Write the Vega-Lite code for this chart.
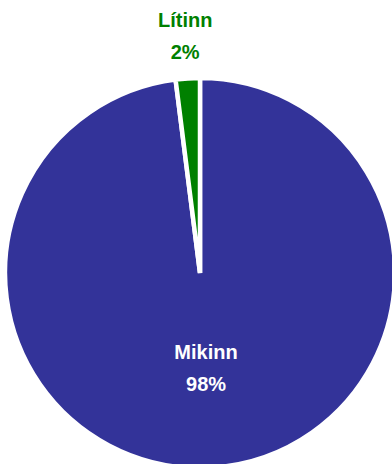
{
  "$schema": "https://vega.github.io/schema/vega-lite/v6.json",
  "autosize": "none",
  "width": 400,
  "height": 386,
  "padding": {"left": 0, "top": 80, "right": 0, "bottom": 0},
  "background": "white",
  "data": {"values": [
    {"label": "Mikinn", "value": 0.98},
    {"label": "Lítinn", "value": 0.02}
  ]},
  "encoding": {
    "theta": {"field": "value", "type": "quantitative", "stack": true},
    "order": {"field": "value", "type": "quantitative", "sort": "descending"},
    "detail": {"field": "label", "type": "nominal"}
  },
  "layer": [
    {
      "mark": {"type": "arc", "outerRadius": 195, "stroke": "white", "strokeWidth": 4.5},
      "encoding": {
        "color": {"field": "label", "type": "nominal", "scale": {"domain": ["Mikinn", "Lítinn"], "range": ["#333399", "#008000"]}, "legend": null}
      }
    },
    {
      "mark": {"type": "text", "font": "Liberation Sans", "fontWeight": "bold", "fontSize": 20, "dy": -16, "baseline": "middle", "radius": 96, "color": "white"},
      "encoding": {
        "text": {"condition": {"test": "datum.label === 'Mikinn'", "field": "label", "type": "nominal"}, "value": ""}
      }
    },
    {
      "mark": {"type": "text", "font": "Liberation Sans", "fontWeight": "bold", "fontSize": 20, "dy": 16, "baseline": "middle", "radius": 96, "color": "white"},
      "encoding": {
        "text": {"condition": {"test": "datum.label === 'Mikinn'", "field": "value", "type": "quantitative", "format": ".0%"}, "value": ""}
      }
    },
    {
      "mark": {"type": "text", "font": "Liberation Sans", "fontWeight": "bold", "fontSize": 20, "dy": -16, "baseline": "middle", "radius": 236, "color": "#008000"},
      "encoding": {
        "text": {"condition": {"test": "datum.label === 'Lítinn'", "field": "label", "type": "nominal"}, "value": ""}
      }
    },
    {
      "mark": {"type": "text", "font": "Liberation Sans", "fontWeight": "bold", "fontSize": 20, "dy": 16, "baseline": "middle", "radius": 236, "color": "#008000"},
      "encoding": {
        "text": {"condition": {"test": "datum.label === 'Lítinn'", "field": "value", "type": "quantitative", "format": ".0%"}, "value": ""}
      }
    }
  ],
  "resolve": {"scale": {"color": "independent"}},
  "config": {"view": {"stroke": null}}
}
